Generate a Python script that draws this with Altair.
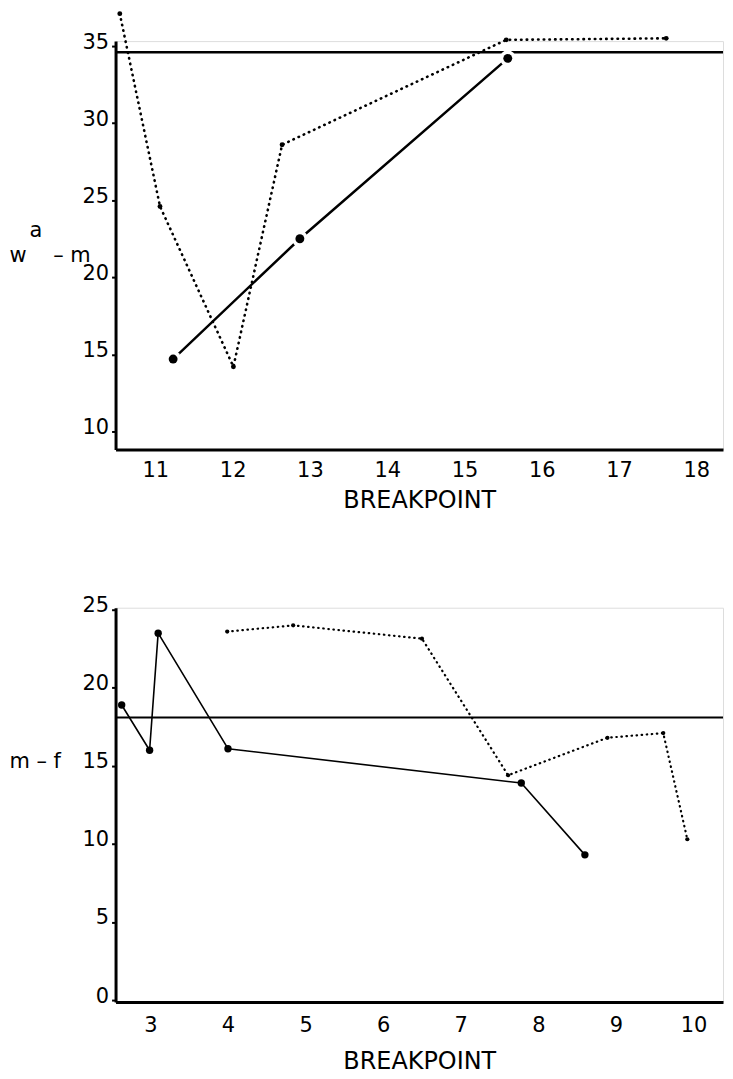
import altair as alt
import pandas as pd

# ---------------- data ----------------
# upper panel  (w^a - m  vs breakpoint)
top_solid_bp = [11.23, 12.87, 15.56]
top_solid_val = [14.7, 22.5, 34.2]
top_dot_bp = [10.54, 11.06, 12.01, 12.64, 15.54, 17.61]
top_dot_val = [37.1, 24.6, 14.2, 28.6, 35.4, 35.5]
top_ref_val = [34.6]
top_x_labels = [11, 12, 13, 14, 15, 16, 17, 18]
top_x_ticks = [11.5, 12.5, 13.5, 14.5, 15.5, 16.5, 17.5]
top_y_labels = [10, 15, 20, 25, 30, 35]

# lower panel  (m - f  vs breakpoint)
bot_solid_bp = [2.63, 2.99, 3.10, 4.00, 7.78, 8.60]
bot_solid_val = [18.9, 16.0, 23.5, 16.1, 13.9, 9.3]
bot_dot_bp = [3.99, 4.84, 6.50, 7.61, 8.89, 9.61, 9.92]
bot_dot_val = [23.6, 24.0, 23.15, 14.4, 16.8, 17.1, 10.3]
bot_ref_val = [18.1]
bot_x_labels = [3, 4, 5, 6, 7, 8, 9, 10]
bot_x_ticks = [3.5, 4.5, 5.5, 6.5, 7.5, 8.5, 9.5]
bot_y_labels = [0, 5, 10, 15, 20, 25]

FONT = "DejaVu Sans"
NB = "\u00a0"


def panel(solid_bp, solid_val, dot_bp, dot_val, ref_val, xlabels, xticks,
          xdom, ylabels, ydom, height, ytitle, ytitle_y, line_h, big, halo, small,
          solid_w, dot_w, dot_dash, ref_w, xlabpad, xtitlepad):
    solid = pd.DataFrame({"bp": solid_bp, "val": solid_val})
    dot = pd.DataFrame({"bp": dot_bp, "val": dot_val})
    ref = pd.DataFrame({"val": ref_val})

    xaxis = alt.Axis(
        values=sorted(xlabels + xticks), format="d",
        labelExpr="datum.value % 1 === 0 ? datum.label : ''",
        tickOpacity={"condition": {"test": "datum.value % 1 === 0", "value": 0}, "value": 1},
        domainWidth=3, domainColor="black", tickColor="black", tickWidth=2, tickSize=5,
        labelFont=FONT, labelFontSize=21, labelColor="black", labelPadding=xlabpad,
        labelOverlap=False, labelFlush=False, grid=False,
        title="BREAKPOINT", titleFont=FONT, titleFontSize=24, titleFontWeight="normal",
        titleColor="black", titlePadding=xtitlepad,
    )
    yaxis = alt.Axis(
        values=ylabels, format="d",
        domainWidth=3, domainColor="black", tickColor="black", tickWidth=2, tickSize=4,
        labelFont=FONT, labelFontSize=21, labelColor="black", labelPadding=3,
        labelOffset=-4, labelFlush=False, grid=False,
        title=ytitle, titleFont=FONT, titleFontSize=21, titleFontWeight="normal",
        titleColor="black", titleAngle=0, titleAlign="left", titleBaseline="alphabetic",
        titleX=-107, titleY=ytitle_y, titleLineHeight=line_h,
    )
    xs = alt.Scale(domain=xdom, nice=False, zero=False)
    ys = alt.Scale(domain=ydom, nice=False, zero=False)
    X = alt.X("bp:Q", scale=xs, axis=xaxis)
    Y = alt.Y("val:Q", scale=ys, axis=yaxis)

    rule = alt.Chart(ref).mark_rule(color="black", strokeWidth=ref_w).encode(y=Y)
    dline = alt.Chart(dot).mark_line(color="black", strokeWidth=dot_w, strokeCap="round",
                                     strokeJoin="round", strokeDash=dot_dash,
                                     clip=False).encode(x=X, y=Y)
    dpts = alt.Chart(dot).mark_circle(color="black", size=small, opacity=1,
                                      clip=False).encode(x=X, y=Y)
    sline = alt.Chart(solid).mark_line(color="black", strokeWidth=solid_w,
                                       strokeJoin="round", clip=False).encode(x=X, y=Y)
    layers = [rule, dline, dpts, sline]
    if halo:
        layers.append(alt.Chart(solid).mark_circle(color="white", size=halo, opacity=1,
                                                   clip=False).encode(x=X, y=Y))
    layers.append(alt.Chart(solid).mark_circle(color="black", size=big, opacity=1,
                                               clip=False).encode(x=X, y=Y))
    return alt.layer(*layers).properties(width=610, height=height)


top = panel(top_solid_bp, top_solid_val, top_dot_bp, top_dot_val, top_ref_val,
            top_x_labels, top_x_ticks, [10.485, 18.345], top_y_labels, [8.84, 35.32],
            410, ["\u200b" + NB * 3 + "a", "w" + NB * 4 + "\u2013 m"], 196, 25,
            big=80, halo=260, small=24, solid_w=2.5, dot_w=2.6, dot_dash=[0.5, 5.2],
            ref_w=2.5, xlabpad=5, xtitlepad=8)

bot = panel(bot_solid_bp, bot_solid_val, bot_dot_bp, bot_dot_val, bot_ref_val,
            bot_x_labels, bot_x_ticks, [2.551, 10.38], bot_y_labels, [-0.13, 25.13],
            396, "m \u2013 f", 160, 21,
            big=55, halo=0, small=18, solid_w=1.6, dot_w=2.2, dot_dash=[0.5, 4.6],
            ref_w=2.0, xlabpad=8, xtitlepad=14)

chart = alt.vconcat(top, bot, spacing=159, bounds="flush").properties(
    padding={"left": 0, "top": 0, "right": 0, "bottom": 0}
).configure_view(stroke=None).configure(background="white")

chart.save("out.html", embed_options={"renderer": "svg", "actions": False})
